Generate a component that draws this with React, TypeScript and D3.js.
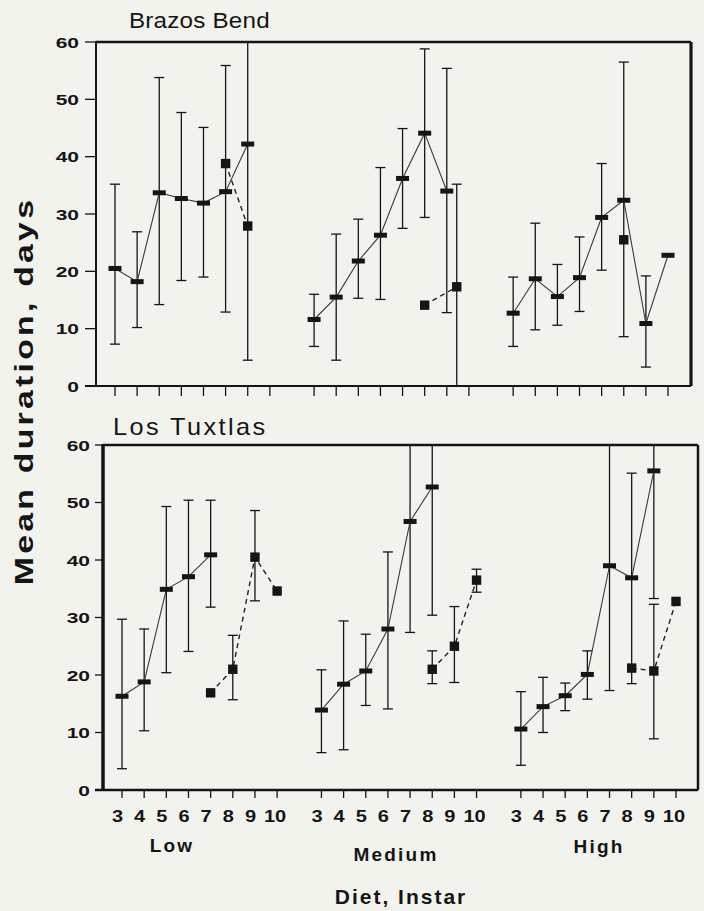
import React from "react";
import * as d3 from "d3";

// ---------- data ----------
const diets = ["Low", "Medium", "High"];
const instars = [3, 4, 5, 6, 7, 8, 9, 10];
const yTicks = [0, 10, 20, 30, 40, 50, 60];
const siteNames = ["Brazos Bend", "Los Tuxtlas"];
const xTitle = "Diet, Instar";
const yTitle = "Mean duration, days";

// rows: [instar, mean, lower, upper]  (solid series = bar markers, dashed series = square markers)
const bbLowSolid = [
  [3, 20.5, 7.3, 35.2],
  [4, 18.2, 10.2, 26.9],
  [5, 33.7, 14.2, 53.8],
  [6, 32.7, 18.4, 47.7],
  [7, 31.9, 19.0, 45.1],
  [8, 33.9, 12.9, 55.9],
  [9, 42.2, 4.5, 79.9],
];
const bbLowDash = [
  [8, 38.8],
  [9, 27.9],
];
const bbMedSolid = [
  [3, 11.6, 6.9, 16.0],
  [4, 15.5, 4.5, 26.5],
  [5, 21.8, 15.3, 29.1],
  [6, 26.3, 15.1, 38.1],
  [7, 36.2, 27.5, 44.9],
  [8, 44.1, 29.4, 58.8],
  [9, 34.0, 12.8, 55.4],
];
const bbMedDash = [
  [8, 14.1],
  [9.45, 17.3, -0.6, 35.2],
];
const bbHighSolid = [
  [3, 12.7, 6.9, 19.0],
  [4, 18.7, 9.8, 28.4],
  [5, 15.6, 10.6, 21.2],
  [6, 18.9, 13.0, 26.0],
  [7, 29.4, 20.2, 38.8],
  [8, 32.4, 8.6, 56.5],
  [9, 10.9, 3.3, 19.2],
  [10, 22.8],
];
const bbHighDash = [[8, 25.5]];

const ltLowSolid = [
  [3, 16.3, 3.7, 29.7],
  [4, 18.8, 10.3, 28.0],
  [5, 34.9, 20.4, 49.3],
  [6, 37.1, 24.1, 50.4],
  [7, 40.9, 31.8, 50.4],
];
const ltLowDash = [
  [7, 16.9],
  [8, 21.0, 15.7, 26.9],
  [9, 40.5, 32.9, 48.6],
  [10, 34.6],
];
const ltMedSolid = [
  [3, 13.9, 6.5, 20.9],
  [4, 18.4, 7.0, 29.4],
  [5, 20.7, 14.7, 27.1],
  [6, 28.0, 14.1, 41.4],
  [7, 46.7, 27.4, 66.0],
  [8, 52.7, 30.4, 75.0],
];
const ltMedDash = [
  [8, 21.0, 18.5, 24.2],
  [9, 25.0, 18.7, 31.9],
  [10, 36.5, 34.4, 38.4],
];
const ltHighSolid = [
  [3, 10.6, 4.3, 17.1],
  [4, 14.5, 10.0, 19.6],
  [5, 16.4, 13.8, 18.6],
  [6, 20.1, 15.8, 24.2],
  [7, 39.0, 17.3, 61.0],
  [8, 36.9, 18.5, 55.1],
  [9, 55.5, 33.3, 77.7],
];
const ltHighDash = [
  [8, 21.2],
  [9, 20.7, 8.9, 32.3],
  [10, 32.8],
];

// ---------- layout ----------
const W = 704;
const H = 911;
const FONT = "'Liberation Sans', Arial, Helvetica, sans-serif";
const INK = "#151515";
const BG = "#f3f3ee";

const panels = [
  {
    site: siteNames[0],
    left: 96, right: 691, top: 42, bottom: 386,
    x0: 115, x1: 668,
    yTickLen: 11, labelEnd: 79, xTickLen: 10,
    titleX: 129, titleY: 28, titleSize: 22, titleLs: 0.2,
    leftW: 2, topW: 2.5, rightW: 3.2, baseW: 2,
    showXLabels: false,
    series: [
      [bbLowSolid, bbLowDash],
      [bbMedSolid, bbMedDash],
      [bbHighSolid, bbHighDash],
    ],
  },
  {
    site: siteNames[1],
    left: 103, right: 698, top: 445, bottom: 790,
    x0: 122, x1: 676,
    yTickLen: 8, labelEnd: 90, xTickLen: 8,
    titleX: 113, titleY: 435, titleSize: 23, titleLs: 2.2,
    leftW: 3.5, topW: 2.5, rightW: 2.5, baseW: 2.5,
    showXLabels: true,
    series: [
      [ltLowSolid, ltLowDash],
      [ltMedSolid, ltMedDash],
      [ltHighSolid, ltHighDash],
    ],
  },
];

const dietLabelX = [172, 396, 599];
const dietLabelY = [852, 861, 853];

function ST(props: any) {
  const { x, y, sx = 1, rot = 0, anchor = "start", size, weight = "normal", ls = 0, children } = props;
  return (
    <text
      transform={`translate(${x},${y})${rot ? ` rotate(${rot})` : ""} scale(${sx},1)`}
      textAnchor={anchor}
      fontSize={size}
      fontWeight={weight}
      letterSpacing={ls}
      fontFamily={FONT}
      fill={INK}
    >
      {children}
    </text>
  );
}

function Panel({ p }: { p: any }) {
  const xs = d3.scaleLinear().domain([0, 25]).range([p.x0, p.x1]);
  const ys = d3.scaleLinear().domain([0, 60]).range([p.bottom, p.top]).clamp(true);
  const pos = (g: number, instar: number) => xs(g * 9 + (instar - 3));
  const cap = 5;

  const elems: any[] = [];

  p.series.forEach((pair: any, g: number) => {
    pair.forEach((rows: number[][], kind: number) => {
      const line = d3
        .line<number[]>()
        .x((d) => pos(g, d[0]))
        .y((d) => ys(d[1]));
      rows.forEach((d, i) => {
        if (d.length < 4) return;
        const x = pos(g, d[0]);
        const lo = d[2];
        const hi = d[3];
        elems.push(
          <line key={`eb-${g}-${kind}-${i}`} x1={x} x2={x} y1={ys(lo)} y2={ys(hi)} stroke={INK} strokeWidth={1.3} />
        );
        if (lo >= 0)
          elems.push(
            <line key={`cl-${g}-${kind}-${i}`} x1={x - cap} x2={x + cap} y1={ys(lo)} y2={ys(lo)} stroke={INK} strokeWidth={1.3} />
          );
        if (hi <= 60)
          elems.push(
            <line key={`ch-${g}-${kind}-${i}`} x1={x - cap} x2={x + cap} y1={ys(hi)} y2={ys(hi)} stroke={INK} strokeWidth={1.3} />
          );
      });
      elems.push(
        <path
          key={`ln-${g}-${kind}`}
          d={line(rows) || ""}
          fill="none"
          stroke={kind === 0 ? "#3a3a3a" : "#222"}
          strokeWidth={kind === 0 ? 1.1 : 1.4}
          strokeDasharray={kind === 0 ? undefined : "5,4"}
        />
      );
    });
  });
  p.series.forEach((pair: any, g: number) => {
    pair.forEach((rows: number[][], kind: number) => {
      rows.forEach((d, i) => {
        const x = pos(g, d[0]);
        const y = ys(d[1]);
        if (kind === 0)
          elems.push(<rect key={`m-${g}-${kind}-${i}`} x={x - 6.5} y={y - 2.5} width={13} height={5} fill={INK} />);
        else
          elems.push(<rect key={`m-${g}-${kind}-${i}`} x={x - 4.7} y={y - 4.7} width={9.4} height={9.4} fill={INK} />);
      });
    });
  });

  return (
    <g>
      <line x1={p.left} x2={p.right} y1={p.top} y2={p.top} stroke={INK} strokeWidth={p.topW} />
      <line x1={p.right} x2={p.right} y1={p.top} y2={p.bottom} stroke={INK} strokeWidth={p.rightW} />
      <line x1={p.left} x2={p.left} y1={p.top - 1} y2={p.bottom + 1} stroke={INK} strokeWidth={p.leftW} />
      <line x1={p.left - p.yTickLen} x2={p.right} y1={p.bottom} y2={p.bottom} stroke={INK} strokeWidth={p.baseW} />
      {yTicks.map((t) => (
        <g key={`yt-${t}`}>
          <line x1={p.left - p.yTickLen} x2={p.left} y1={ys(t)} y2={ys(t)} stroke={INK} strokeWidth={1.3} />
          <ST x={p.labelEnd} y={ys(t) + 5.5} sx={1.4} anchor="end" size={15} weight="bold">
            {t}
          </ST>
        </g>
      ))}
      {diets.map((dname, g) =>
        instars.map((ins) => (
          <g key={`xt-${g}-${ins}`}>
            <line
              x1={pos(g, ins)}
              x2={pos(g, ins)}
              y1={p.bottom}
              y2={p.bottom + p.xTickLen}
              stroke={INK}
              strokeWidth={1.3}
            />
            {p.showXLabels && (
              <ST x={pos(g, ins) - (ins === 10 ? 2 : 4.5)} y={p.bottom + 32} sx={1.25} anchor="middle" size={16} weight="bold">
                {ins}
              </ST>
            )}
          </g>
        ))
      )}
      <ST x={p.titleX} y={p.titleY} sx={1.1} size={p.titleSize} ls={p.titleLs}>
        {p.site}
      </ST>
      {elems}
    </g>
  );
}

export default function App() {
  return (
    <svg
      width={W}
      height={H}
      viewBox={`0 0 ${W} ${H}`}
      style={{ position: "absolute", left: 0, top: 0, display: "block" }}
    >
      <rect x={0} y={0} width={W} height={H} fill={BG} />
      {panels.map((p, i) => (
        <Panel key={i} p={p} />
      ))}
      {diets.map((d, i) => (
        <ST key={d} x={dietLabelX[i]} y={dietLabelY[i]} anchor="middle" size={19} weight="bold" ls={2.2}>
          {d}
        </ST>
      ))}
      <ST x={401} y={904} anchor="middle" size={21} weight="bold" ls={2}>
        {xTitle}
      </ST>
      <ST x={33} y={391} rot={-90} sx={1.3} anchor="middle" size={26} weight="bold" ls={2.5}>
        {yTitle}
      </ST>
    </svg>
  );
}
